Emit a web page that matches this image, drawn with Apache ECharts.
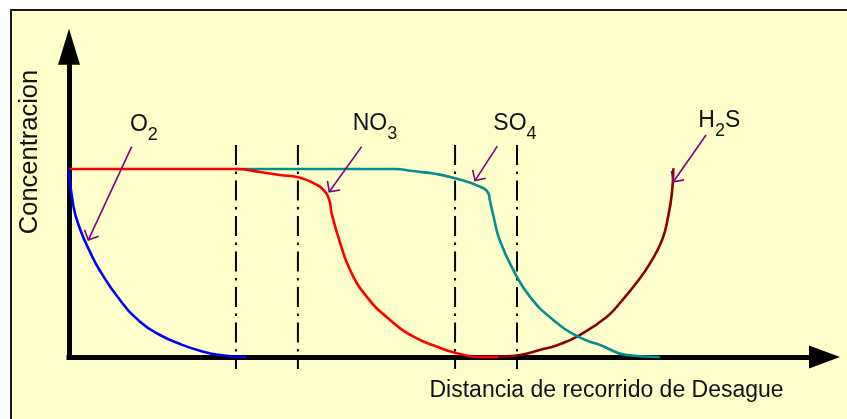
<!DOCTYPE html>
<html><head><meta charset="utf-8">
<script src="https://cdn.jsdelivr.net/npm/echarts@6/dist/echarts.min.js"></script>
<style>html,body{margin:0;padding:0;background:#fff;}#c{width:847px;height:419px;}</style>
</head><body><div id="c"></div>
<script>
// ---- data (distance 0..100, concentration 0..165) ----
const o2Dist  = [0, 0.57, 1.46, 2.78, 4.1, 6.75, 9.4, 12.05, 14.7, 17.34, 19.99, 23.5];
const o2Conc  = [100, 80.5, 68.1, 55.9, 45.9, 30.3, 18.8, 11.7, 6.9, 3.35, 1.06, 0];
const no3Dist = [0, 22.1, 25.3, 27.9, 30.35, 32.6, 33.7, 34.45, 34.76, 35.9, 37.2, 39.4, 42.5, 45.6, 48.7, 51.1, 54.4, 56.8];
const no3Conc = [100, 100, 98.4, 96.8, 95.6, 92, 88.8, 83.5, 76.4, 60.5, 46.3, 32.1, 19.7, 10.8, 5.5, 2.3, 0, 0];
const so4Dist = [22.1, 43.15, 45.53, 48.67, 51.1, 54.4, 55.5, 55.7, 56.2, 57.0, 58.8, 61.0, 64.1, 67.6, 70.3, 73.8, 78.2];
const so4Conc = [100, 100, 98.9, 97.3, 95.1, 90.6, 87.1, 83.5, 74.6, 62.2, 46.3, 32.1, 19.7, 10.4, 6.4, 1.06, 0];
const h2sDist = [54.4, 56.8, 59.7, 62.3, 64.7, 67.6, 71.2, 73.2, 75.4, 76.9, 78.5, 79.3, 79.8, 80.0];
const h2sConc = [0, 0.2, 1.06, 3.7, 6.4, 11.7, 21.4, 30.05, 41.0, 49.8, 62.2, 74.6, 87.1, 100.4];
const dividerDist = [22.1, 30.3, 51.1, 59.3];
const dividerSpan = [112.8, -6.4];
const annotationMain  = ['O', 'NO', 'SO', 'H'];
const annotationSub   = ['2', '3', '4', '2'];
const annotationTail  = ['', '', '', 'S'];
const annotationLabelAt = [[8.07, 123.4], [37.55, 123.9], [56.16, 123.9], [83.3, 125.5]];
const arrowFrom = [[8.3, 111.9], [38.74, 111.9], [56.69, 112.2], [84.32, 118.1]];
const arrowTo   = [[2.55, 62.2], [34.45, 87.9], [53.74, 93.8], [79.99, 93.2]];
const xTitle = 'Distancia de recorrido de Desague';
const yTitle = 'Concentracion';

const FONT = '"Liberation Sans", Arial, sans-serif';
const pair = (xs, ys) => xs.map((x, i) => [x, ys[i]]);
const chart = echarts.init(document.getElementById('c'), null, {renderer: 'canvas'});

const series = [];
dividerDist.forEach(d => series.push({
  type: 'line', data: [[d, dividerSpan[0]], [d, dividerSpan[1]]], clip: false, symbol: 'none',
  silent: true, z: 1, lineStyle: {color: '#000', width: 2, type: [20, 6.5, 2.5, 6.5]}
}));
function curve(xs, ys, color) {
  return {type: 'line', data: pair(xs, ys), smooth: 0.5, symbol: 'none',
    clip: false, silent: true, z: 3, lineStyle: {color: color, width: 2.6}};
}
series.push(curve(h2sDist, h2sConc, '#8B0000'));
series.push(curve(so4Dist, so4Conc, '#009090'));
series.push(curve(no3Dist, no3Conc, '#FF0000'));
series.push(curve(o2Dist, o2Conc, '#0000FF'));

const axisCommon = {
  type: 'value', axisTick: {show: false}, axisLabel: {show: false}, splitLine: {show: false}
};
chart.setOption({
  backgroundColor: '#fff',
  animation: false,
  grid: {left: 69, right: 22.5, top: 46.8, bottom: 62},
  xAxis: Object.assign({}, axisCommon, {min: 0, max: 100,
    axisLine: {show: true, onZero: true, symbol: ['none', 'triangle'], symbolSize: [23, 31],
      lineStyle: {color: '#000', width: 5, cap: 'square'}}}),
  yAxis: Object.assign({}, axisCommon, {min: 0, max: 165,
    axisLine: {show: true, symbol: ['none', 'triangle'], symbolSize: [22, 36],
      lineStyle: {color: '#000', width: 5, cap: 'square'}}}),
  series: series
});

const mctx = document.createElement('canvas').getContext('2d');
function textW(t, size) { mctx.font = size + 'px ' + FONT; return mctx.measureText(t).width; }
function txt(text, x, y, size, align) {
  return {type: 'text', x: x, y: y, silent: true, z: 20,
    style: {text: text, fontSize: size, fontFamily: FONT, fill: '#111',
      align: align || 'left', textAlign: align || 'left', verticalAlign: 'middle', textVerticalAlign: 'middle'}};
}
const graphics = [];
graphics.push({type: 'rect', z: -100, silent: true, shape: {x: 11, y: 10, width: 900, height: 500},
  style: {fill: '#FFFFCC', stroke: '#1a1a1a', lineWidth: 2}});
const yt = txt(yTitle, 30, 152, 25.5, 'center'); yt.rotation = Math.PI / 2; graphics.push(yt);
graphics.push(txt(xTitle, 429.5, 391, 23, 'left'));

annotationMain.forEach((m, i) => {
  const p = chart.convertToPixel({gridIndex: 0}, annotationLabelAt[i]);
  const mw = textW(m, 23);
  graphics.push(txt(m, p[0], p[1], 23));
  graphics.push(txt(annotationSub[i], p[0] + mw, p[1] + 10, 18));
  if (annotationTail[i]) graphics.push(txt(annotationTail[i], p[0] + mw + textW(annotationSub[i], 18), p[1], 23));
  const a = chart.convertToPixel({gridIndex: 0}, arrowFrom[i]);
  const b = chart.convertToPixel({gridIndex: 0}, arrowTo[i]);
  const ang = Math.atan2(a[1] - b[1], a[0] - b[0]);
  const L = 11, spread = Math.PI / 4;
  const w1 = [b[0] + L * Math.cos(ang - spread), b[1] + L * Math.sin(ang - spread)];
  const w2 = [b[0] + L * Math.cos(ang + spread), b[1] + L * Math.sin(ang + spread)];
  const st = {stroke: '#800080', lineWidth: 1.6, fill: null};
  graphics.push({type: 'polyline', silent: true, z: 20, shape: {points: [a, b]}, style: st});
  graphics.push({type: 'polyline', silent: true, z: 20, shape: {points: [w1, b, w2]}, style: st});
});
chart.setOption({graphic: {elements: graphics}});
</script>
</body></html>
